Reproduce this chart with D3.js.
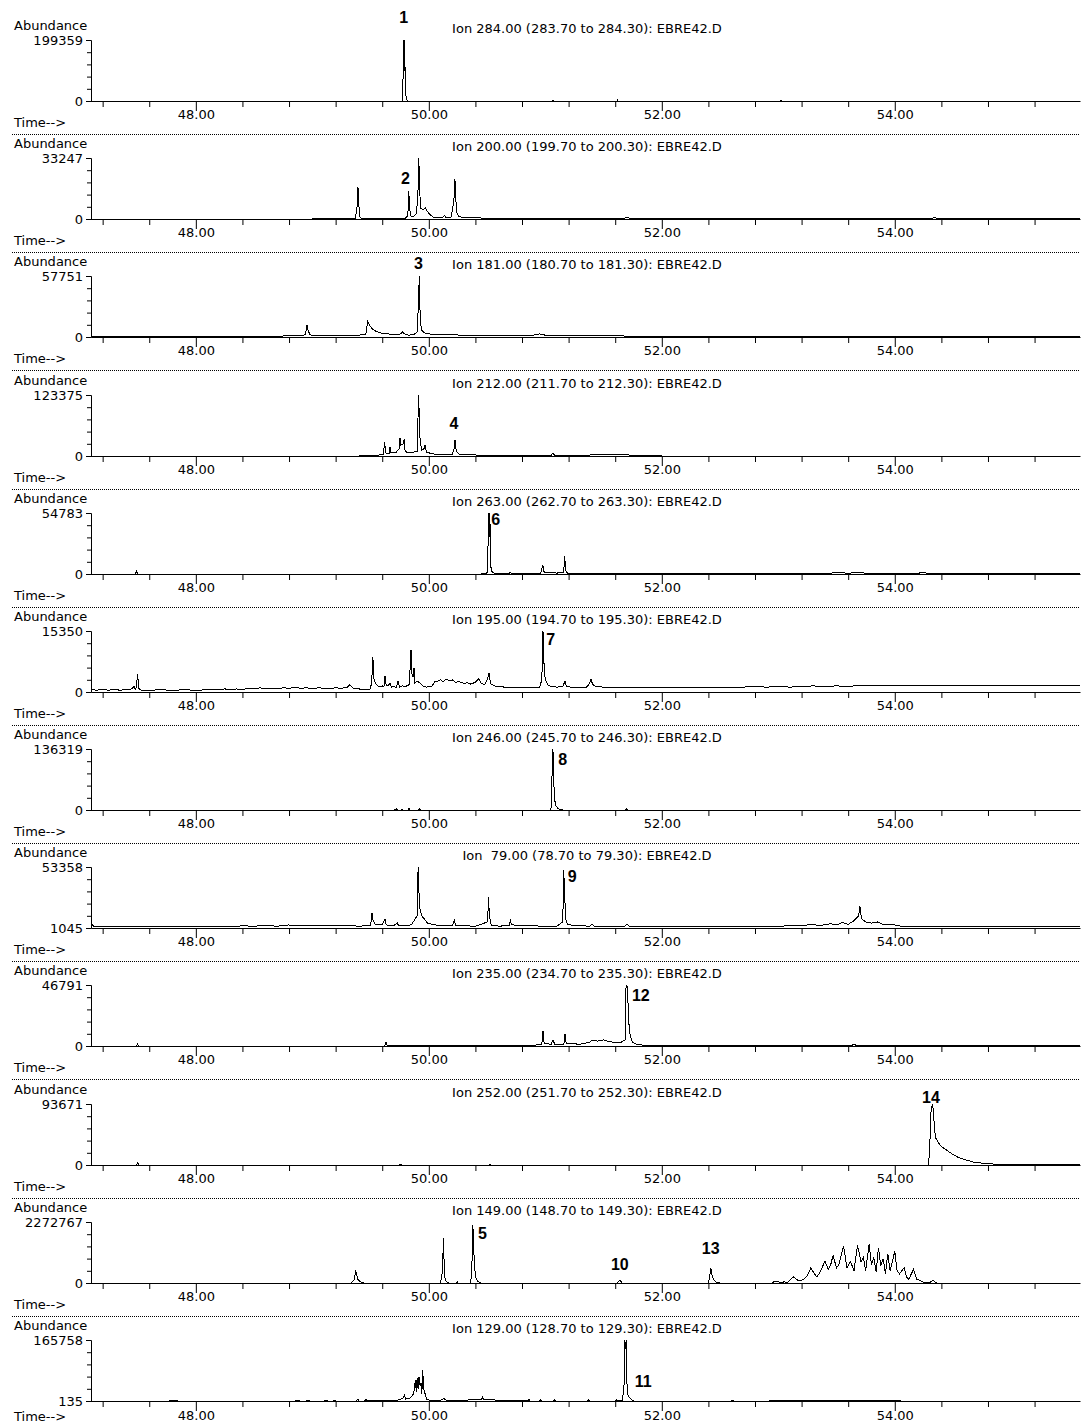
<!DOCTYPE html>
<html>
<head>
<meta charset="utf-8">
<script src="https://cdn.jsdelivr.net/npm/d3@7"></script>
<style>
  body { margin: 0; background: #fff; }
  svg text { font-family: "DejaVu Sans", sans-serif; font-size: 13px; fill: #000; }
  svg text.peak { font-family: "Liberation Sans", Arial, sans-serif; font-weight: bold; font-size: 16px; }
  .trace { fill: none; stroke: #000; stroke-width: 1; shape-rendering: crispEdges; }
</style>
</head>
<body>
<div id="chart"></div>
<script>
const width = 1082, height = 1424;
const firstZero = 101, pitch = 118.18, plotH = 61;

// panel headers
const ions = [
  "Ion 284.00 (283.70 to 284.30): EBRE42.D",
  "Ion 200.00 (199.70 to 200.30): EBRE42.D",
  "Ion 181.00 (180.70 to 181.30): EBRE42.D",
  "Ion 212.00 (211.70 to 212.30): EBRE42.D",
  "Ion 263.00 (262.70 to 263.30): EBRE42.D",
  "Ion 195.00 (194.70 to 195.30): EBRE42.D",
  "Ion 246.00 (245.70 to 246.30): EBRE42.D",
  "Ion  79.00 (78.70 to 79.30): EBRE42.D",
  "Ion 235.00 (234.70 to 235.30): EBRE42.D",
  "Ion 252.00 (251.70 to 252.30): EBRE42.D",
  "Ion 149.00 (148.70 to 149.30): EBRE42.D",
  "Ion 129.00 (128.70 to 129.30): EBRE42.D"
];
const maxLabels = ["199359", "33247", "57751", "123375", "54783", "15350", "136319", "53358", "46791", "93671", "2272767", "165758"];
const minLabels = ["0", "0", "0", "0", "0", "0", "0", "1045", "0", "0", "0", "135"];

// time axis
const majorTicks = [48, 50, 52, 54];
const tickLabels = ["48.00", "50.00", "52.00", "54.00"];
const minorTicks = [47.2, 47.6, 48.4, 48.8, 49.2, 49.6, 50.4, 50.8, 51.2, 51.6, 52.4, 52.8, 53.2, 53.6, 54.4, 54.8, 55.2];
const yTicks = [0, 20, 40, 60, 80, 100];

// traces: [time (min), % of full scale]
const ion284 = [[47.1,0],[49.77,0],[49.776,3],[49.78,55],[49.784,100],[49.788,100],[49.792,50],[49.796,55],[49.8,20],[49.805,6],[49.812,2],[49.82,0],[51.06,0],[51.066,1.5],[51.072,0],[51.615,0],[51.62,1.5],[51.625,0],[53.02,0],[53.025,1.5],[53.03,0],[55.59,0]];
const ion200 = [[47.1,0],[49.0,0],[49.2,0.5],[49.37,1],[49.384,20],[49.392,52],[49.399,25],[49.407,4],[49.42,1.5],[49.6,1.5],[49.8,1.5],[49.82,6],[49.828,46],[49.836,15],[49.846,5],[49.87,4],[49.89,8],[49.905,30],[49.914,100],[49.922,45],[49.93,18],[49.95,15],[49.97,18],[49.99,12],[50.01,7],[50.04,3],[50.08,2],[50.12,3],[50.135,6],[50.145,2],[50.19,2],[50.215,30],[50.224,66],[50.232,30],[50.242,10],[50.26,4],[50.3,2],[50.5,1.5],[51.0,1.5],[51.68,1.5],[51.7,3],[51.72,1.5],[52.5,1],[54.3,1],[54.34,2],[54.38,1],[55.59,0.5]];
const ion181 = [[47.1,1],[47.3,1.5],[47.5,1],[47.7,1.5],[47.9,1],[48.1,1.5],[48.3,1],[48.5,1.5],[48.7,1.5],[48.9,2],[48.94,4],[48.955,20],[48.965,10],[48.98,4],[49.0,2],[49.2,2],[49.4,3],[49.46,5],[49.475,26],[49.49,20],[49.51,14],[49.55,9],[49.6,6],[49.65,5],[49.7,4],[49.76,5],[49.775,9],[49.79,5],[49.83,3],[49.87,4],[49.9,8],[49.912,60],[49.918,100],[49.925,40],[49.935,12],[49.96,7],[50.0,5],[50.1,4],[50.3,3],[50.6,2.5],[50.9,3],[50.95,5],[51.0,3],[51.3,2],[51.8,1.5],[55.59,1.5]];
const ion212 = [[47.1,0],[49.4,0],[49.55,1],[49.61,3],[49.62,23],[49.63,5],[49.66,4],[49.667,15],[49.675,5],[49.72,6],[49.745,12],[49.753,30],[49.76,18],[49.78,20],[49.787,27],[49.795,10],[49.81,6],[49.85,5],[49.9,8],[49.912,100],[49.925,25],[49.94,10],[49.96,12],[49.968,18],[49.98,6],[50.05,3],[50.2,2],[50.215,10],[50.225,26],[50.235,8],[50.26,3],[50.35,2],[50.5,1],[51.05,1],[51.066,5],[51.08,1],[51.35,1],[51.4,2],[51.5,2],[51.6,2.5],[51.7,3],[51.73,1],[52.0,0],[55.59,0]];
const ion263 = [[47.1,0],[47.48,0],[47.49,5],[47.5,0],[50.45,0],[50.505,2],[50.512,100],[50.518,60],[50.524,100],[50.53,15],[50.54,4],[50.56,1.5],[50.6,0.5],[50.69,0.5],[50.70,3],[50.71,0.5],[50.96,1],[50.978,15],[50.99,3],[51.1,1.5],[51.158,3],[51.166,30],[51.175,6],[51.19,1],[51.3,0.5],[53.2,0.5],[53.3,1.5],[53.4,1],[53.5,2],[53.6,1.5],[53.7,2],[53.8,1],[54.2,1],[54.24,3],[54.28,1],[55.59,0.5]];
const ion195 = [[47.1,4],[47.15,3],[47.2,4],[47.25,3],[47.3,4],[47.35,3],[47.4,4],[47.45,5],[47.47,9],[47.48,4],[47.49,8],[47.50,30],[47.51,6],[47.53,3],[47.6,3],[47.7,3.5],[47.8,3],[47.9,3.5],[48.0,3],[48.1,3.5],[48.2,4],[48.25,5],[48.3,4],[48.35,5],[48.4,4],[48.45,6],[48.5,5],[48.55,7],[48.6,5],[48.65,6],[48.7,5],[48.75,7],[48.8,6],[48.85,8],[48.9,6],[48.95,7],[49.0,5],[49.05,7],[49.1,6],[49.15,5],[49.2,7],[49.25,6],[49.3,8],[49.32,12],[49.35,6],[49.4,5],[49.45,4],[49.5,5],[49.51,20],[49.52,57],[49.53,20],[49.55,12],[49.58,8],[49.6,10],[49.615,9],[49.624,26],[49.635,10],[49.66,12],[49.667,14],[49.68,8],[49.7,9],[49.72,7],[49.736,18],[49.75,8],[49.77,10],[49.8,9],[49.83,12],[49.84,40],[49.847,69],[49.855,30],[49.865,25],[49.873,40],[49.88,15],[49.9,18],[49.93,14],[49.95,10],[49.98,8],[50.0,9],[50.03,10],[50.05,17],[50.08,18],[50.1,20],[50.12,17],[50.15,21],[50.18,18],[50.2,20],[50.23,16],[50.26,17],[50.3,14],[50.33,15],[50.36,13],[50.4,16],[50.43,22],[50.45,14],[50.48,12],[50.5,20],[50.517,31],[50.53,14],[50.56,10],[50.6,9],[50.65,8],[50.7,8],[50.75,7],[50.8,8],[50.85,7],[50.9,8],[50.95,7],[50.97,20],[50.98,100],[50.99,40],[51.0,20],[51.02,12],[51.05,9],[51.1,8],[51.15,9],[51.169,18],[51.18,9],[51.22,8],[51.26,7],[51.3,8],[51.35,7],[51.38,14],[51.392,21],[51.405,13],[51.43,9],[51.5,8],[51.6,7],[51.7,8],[51.8,7],[51.9,8],[52.0,7],[52.1,8],[52.2,7],[52.3,8],[52.4,7],[52.5,8],[52.6,7],[52.7,8],[52.8,9],[52.9,8],[53.0,9],[53.1,8],[53.2,9],[53.3,10],[53.4,9],[53.5,10],[53.6,9],[53.7,11],[53.8,10],[53.9,11],[54.0,10],[54.1,11],[54.2,10],[54.3,11],[54.4,10],[54.5,11],[54.6,10],[54.7,11],[54.8,10],[54.9,11],[55.0,10],[55.1,11],[55.2,10],[55.3,11],[55.4,10],[55.5,11],[55.59,10]];
const ion246 = [[47.1,0],[49.7,0],[49.72,2],[49.73,0],[49.76,0],[49.77,2],[49.78,0],[49.82,0],[49.83,2.5],[49.84,0],[49.91,0],[49.92,2],[49.93,0],[51.045,0],[51.052,5],[51.058,60],[51.063,100],[51.068,92],[51.074,40],[51.082,15],[51.092,7],[51.105,3],[51.12,1],[51.15,0],[51.69,0],[51.7,2.5],[51.71,0],[55.59,0]];
const ion79 = [[47.1,20],[47.11,5],[47.13,2],[47.2,2.5],[47.3,2],[47.4,3],[47.5,2],[47.6,2.5],[47.7,2],[47.8,2.5],[47.9,2],[48.0,2.5],[48.1,2],[48.2,3],[48.3,2.5],[48.4,3.5],[48.5,3],[48.6,4],[48.7,3],[48.8,5],[48.85,3.5],[48.9,4.5],[49.0,3.5],[49.1,4.5],[49.2,3.5],[49.3,4],[49.4,3],[49.5,4],[49.512,25],[49.52,14],[49.54,6],[49.6,5],[49.624,15],[49.635,5],[49.7,4],[49.73,8],[49.74,4],[49.85,5],[49.9,20],[49.908,100],[49.915,60],[49.925,30],[49.94,20],[49.96,15],[49.99,8],[50.05,5],[50.2,4],[50.22,12],[50.23,4],[50.4,3],[50.505,10],[50.512,50],[50.52,20],[50.535,5],[50.6,3],[50.69,4],[50.7,12],[50.71,6],[50.75,4],[51.0,3],[51.1,3],[51.15,10],[51.158,95],[51.165,60],[51.175,15],[51.19,6],[51.25,4],[51.38,3],[51.4,6],[51.42,3],[51.6,3],[51.68,3],[51.7,6],[51.72,3],[52.0,2],[52.5,2.5],[53.0,3],[53.2,4],[53.3,6],[53.35,4],[53.45,7],[53.5,5],[53.55,9],[53.6,6],[53.65,12],[53.69,20],[53.70,36],[53.715,15],[53.75,10],[53.8,8],[53.85,10],[53.9,6],[54.0,5],[54.05,3],[54.2,2.5],[55.59,2]];
const ion235 = [[47.1,0],[47.49,0],[47.5,3],[47.51,0],[49.62,0],[49.632,6],[49.645,0],[50.9,1],[50.97,3],[50.98,25],[50.99,4],[51.05,3],[51.066,10],[51.08,3],[51.16,3],[51.169,20],[51.18,4],[51.3,3],[51.38,6],[51.4,10],[51.45,8],[51.5,10],[51.55,7],[51.6,6],[51.65,6],[51.685,10],[51.692,95],[51.698,100],[51.705,95],[51.712,60],[51.72,30],[51.73,15],[51.75,6],[51.78,3],[51.85,1],[52.0,0.5],[53.6,0.5],[53.65,2],[53.7,0.5],[55.59,0]];
const ion252 = [[47.1,0],[47.49,0],[47.5,4],[47.51,0],[49.75,0],[49.76,1.5],[49.77,0],[50.52,0],[50.525,1.5],[50.53,0],[54.29,0],[54.30,30],[54.31,85],[54.322,100],[54.332,90],[54.34,60],[54.35,45],[54.37,38],[54.40,30],[54.44,25],[54.5,17],[54.55,12],[54.6,9],[54.67,5],[54.75,3],[54.85,1.5],[55.0,1],[55.59,1]];
const ion149 = [[47.1,0],[49.33,0],[49.36,5],[49.372,21],[49.38,14],[49.39,6],[49.41,2],[49.44,0],[50.1,0],[50.118,20],[50.125,73],[50.132,30],[50.14,5],[50.15,2],[50.17,0],[50.24,0],[50.245,2],[50.25,0],[50.36,0],[50.372,40],[50.378,95],[50.385,60],[50.392,25],[50.405,8],[50.42,3],[50.45,0],[51.62,0],[51.63,3],[51.645,4],[51.66,0],[52.40,0],[52.412,12],[52.42,25],[52.43,14],[52.445,5],[52.47,1],[52.5,0],[52.95,0],[52.96,2],[53.0,2],[53.02,0],[53.05,2],[53.08,1],[53.13,10],[53.17,4],[53.21,5],[53.25,12],[53.28,25],[53.31,15],[53.33,10],[53.36,18],[53.40,36],[53.43,22],[53.45,30],[53.47,45],[53.5,25],[53.52,30],[53.56,60],[53.59,25],[53.62,35],[53.65,20],[53.68,62],[53.71,35],[53.73,42],[53.75,20],[53.78,64],[53.8,30],[53.82,42],[53.84,18],[53.86,58],[53.88,28],[53.9,40],[53.92,15],[53.94,48],[53.96,20],[54.0,52],[54.02,20],[54.04,15],[54.08,25],[54.1,10],[54.12,6],[54.16,22],[54.19,6],[54.21,5],[54.25,1],[54.3,1],[54.33,4],[54.36,0],[55.59,0]];
const ion129 = [[47.1,0],[47.77,0],[47.775,1],[47.84,1],[47.845,0],[48.85,0],[48.87,1],[48.89,0],[48.95,0],[48.96,1],[48.98,0],[49.1,0],[49.12,1.5],[49.13,0],[49.18,0],[49.19,1],[49.2,0],[49.38,0],[49.39,3],[49.4,0],[49.45,0],[49.46,3],[49.47,0],[49.5,1],[49.55,1.5],[49.6,1],[49.65,1.5],[49.7,1],[49.75,2],[49.78,5],[49.79,10],[49.8,3],[49.84,5],[49.87,12],[49.885,35],[49.892,15],[49.9,38],[49.908,20],[49.915,40],[49.925,25],[49.935,30],[49.94,12],[49.948,50],[49.955,20],[49.965,14],[49.98,3],[50.0,1.5],[50.1,1.5],[50.13,4],[50.15,1.5],[50.3,1.5],[50.45,2],[50.46,6],[50.47,2],[50.6,1.5],[50.8,1.5],[50.85,0],[50.86,3],[50.87,0],[50.95,0],[50.96,2],[50.97,0],[51.07,0],[51.08,2],[51.09,0],[51.36,0],[51.37,2],[51.38,0],[51.6,0],[51.61,2],[51.62,0],[51.66,1],[51.675,20],[51.682,100],[51.688,85],[51.694,100],[51.70,30],[51.71,10],[51.725,5],[51.74,2],[51.76,0],[52.6,0],[52.61,1.5],[52.62,0],[52.92,0],[52.93,1.5],[53.0,1],[53.2,1.5],[53.4,1],[53.6,1.5],[53.8,1],[54.0,1.5],[54.05,0],[55.59,0]];

const traces = [ion284, ion200, ion181, ion212, ion263, ion195, ion246, ion79, ion235, ion252, ion149, ion129];

// compound numbers: panel index, label, time, height in % of full scale
const peakNums = [
  [0, "1", 49.785, 138], [1, "2", 49.80, 67], [2, "3", 49.91, 121], [3, "4", 50.215, 54],
  [4, "6", 50.575, 90], [5, "7", 51.047, 87], [6, "8", 51.15, 84], [7, "9", 51.23, 85],
  [8, "12", 51.82, 84], [9, "14", 54.31, 111], [10, "5", 50.46, 82], [10, "10", 51.64, 31],
  [10, "13", 52.42, 57], [11, "11", 51.84, 33]
];

const svg = d3.select("#chart").append("svg")
  .attr("width", width)
  .attr("height", height);

const x = d3.scaleLinear().domain([47.1, 55.59]).range([91, 1080]);

traces.forEach((tr, i) => {
  const z = Math.round(firstZero + i * pitch);
  const last = i === traces.length - 1;
  const y = d3.scaleLinear().domain([0, 100]).range([z, z - plotH]);
  const g = svg.append("g");

  // Y axis
  const ya = g.append("g")
    .attr("transform", "translate(91,0)")
    .call(d3.axisLeft(y).tickValues(yTicks).tickSize(4).tickSizeOuter(5).tickFormat(""));
  ya.selectAll(".tick").filter(d => d === 0 || d === 100).remove();

  g.append("text").attr("x", 83).attr("y", y(100)).attr("dy", "0.36em")
    .attr("text-anchor", "end").text(maxLabels[i]);
  g.append("text").attr("x", 83).attr("y", y(0)).attr("dy", "0.36em")
    .attr("text-anchor", "end").text(minLabels[i]);
  g.append("text").attr("x", 14).attr("y", z - 76).attr("dy", "0.36em").text("Abundance");

  // X axis
  g.append("g")
    .attr("transform", `translate(0,${z})`)
    .call(d3.axisBottom(x).tickValues(minorTicks).tickSize(6).tickSizeOuter(0).tickFormat(""));
  const xa = g.append("g")
    .attr("transform", `translate(0,${z})`)
    .call(d3.axisBottom(x).tickValues(majorTicks).tickSize(10).tickFormat((d, k) => tickLabels[k]));
  xa.select(".domain").remove();
  xa.selectAll("text").attr("y", last ? 10 : 9).attr("dy", "0.71em");

  g.append("text").attr("x", 14).attr("y", z + (last ? 15 : 21)).attr("dy", "0.36em").text("Time-->");

  // header
  g.append("text").attr("x", 587).attr("y", z - 73).attr("dy", "0.36em")
    .attr("text-anchor", "middle").style("white-space", "pre").text(ions[i]);

  // trace
  const line = d3.line().x(d => x(d[0])).y(d => y(d[1]));
  g.append("path").datum(tr).attr("class", "trace").attr("d", line);

  // peak numbers
  peakNums.filter(p => p[0] === i).forEach(p => {
    g.append("text").attr("class", "peak")
      .attr("x", x(p[2])).attr("y", y(p[3])).attr("dy", "0.36em")
      .attr("text-anchor", "middle").text(p[1]);
  });

  // separator
  if (!last) {
    g.append("line")
      .attr("x1", 12).attr("x2", 1080)
      .attr("y1", z + 33.5).attr("y2", z + 33.5)
      .attr("stroke", "#000").attr("stroke-dasharray", "1,1");
  }
});
</script>
</body>
</html>
